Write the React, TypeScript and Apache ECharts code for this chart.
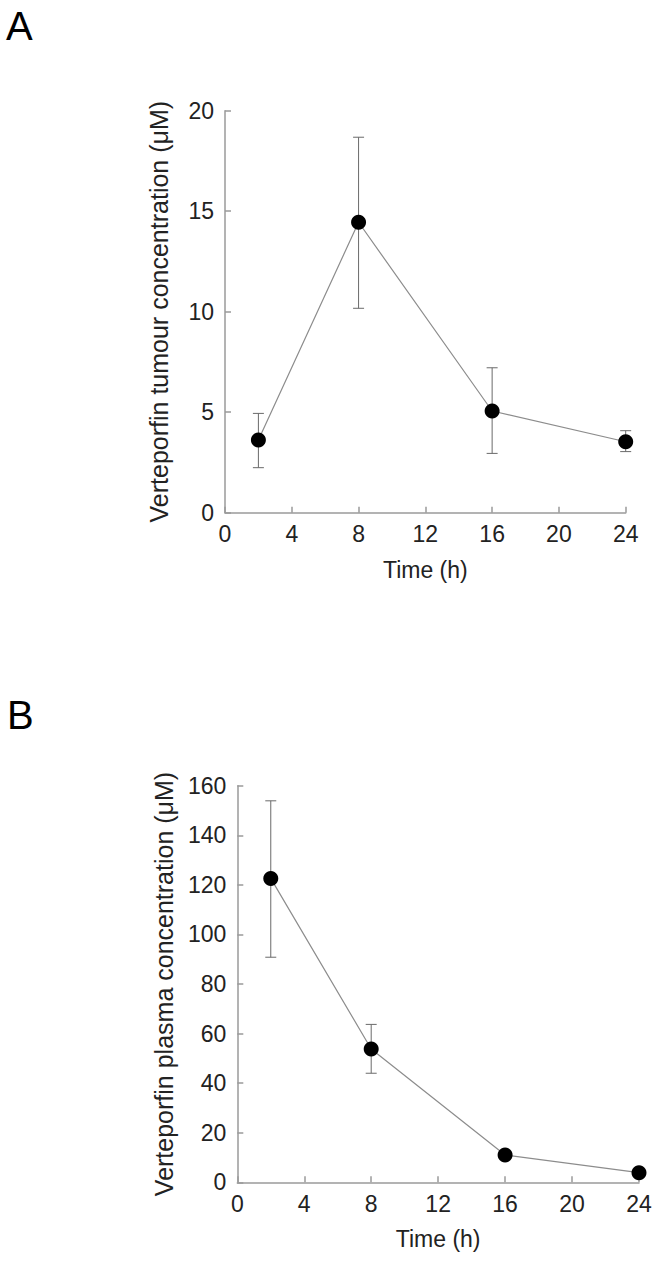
import React, { useEffect, useRef } from "react";
import * as echarts from "echarts";

const timesH = [2, 8, 16, 24];
const xTicks = [0, 4, 8, 12, 16, 20, 24];

const tumourMean = [3.62, 14.45, 5.06, 3.53];
const tumourUpper = [4.94, 18.68, 7.21, 4.08];
const tumourLower = [2.24, 10.17, 2.95, 3.04];

const plasmaMean = [122.6, 53.8, 11.0, 3.9];
const plasmaUpper = [153.9, 63.7, 11.0, 3.9];
const plasmaLower = [90.8, 44.0, 11.0, 3.9];

const panelLabels = ["A", "B"];
const xName = "Time (h)";
const yNameA = "Verteporfin tumour concentration (\u03bcM)";
const yNameB = "Verteporfin plasma concentration (\u03bcM)";

const FONT = "'Liberation Sans', Arial, Helvetica, sans-serif";
const AXIS_COLOR = "#9a9a9a";
const TEXT_COLOR = "#222";

function errorSeries(xAxisIndex: number, upper: number[], lower: number[]) {
  return {
    type: "custom",
    xAxisIndex,
    yAxisIndex: xAxisIndex,
    z: 1,
    data: timesH.map((t, i) => [t, lower[i], upper[i]]),
    renderItem: (params: any, api: any) => {
      const x = api.value(0);
      const lo = api.coord([x, api.value(1)]);
      const hi = api.coord([x, api.value(2)]);
      const half = 5.5;
      const style = { stroke: "#6a6a6a", lineWidth: 1 };
      if (Math.abs(hi[1] - lo[1]) < 1) return { type: "group", children: [] };
      return {
        type: "group",
        children: [
          { type: "line", shape: { x1: lo[0], y1: lo[1], x2: hi[0], y2: hi[1] }, style },
          { type: "line", shape: { x1: lo[0] - half, y1: lo[1], x2: lo[0] + half, y2: lo[1] }, style },
          { type: "line", shape: { x1: hi[0] - half, y1: hi[1], x2: hi[0] + half, y2: hi[1] }, style },
        ],
      };
    },
  };
}

function xAxisCfg(gridIndex: number, nameGap: number) {
  return {
    type: "value",
    gridIndex,
    min: 0,
    max: 24,
    interval: 4,
    name: xName,
    nameLocation: "middle",
    nameGap,
    nameTextStyle: { fontSize: 23, color: TEXT_COLOR, fontFamily: FONT },
    axisLine: { show: true, lineStyle: { color: AXIS_COLOR, width: 1.5 } },
    axisTick: { show: true, inside: true, length: 6, lineStyle: { color: AXIS_COLOR, width: 1.5 } },
    axisLabel: { fontSize: 23, color: TEXT_COLOR, fontFamily: FONT, margin: 10 },
    splitLine: { show: false },
  };
}

function yAxisCfg(gridIndex: number, max: number, interval: number, name: string, nameGap: number) {
  return {
    type: "value",
    gridIndex,
    min: 0,
    max,
    interval,
    name,
    nameLocation: "middle",
    nameGap,
    nameRotate: 90,
    nameTextStyle: { fontSize: 25, color: TEXT_COLOR, fontFamily: FONT },
    axisLine: { show: true, lineStyle: { color: AXIS_COLOR, width: 1.5 } },
    axisTick: { show: true, inside: true, length: 6, lineStyle: { color: AXIS_COLOR, width: 1.5 } },
    axisLabel: { fontSize: 23, color: TEXT_COLOR, fontFamily: FONT, margin: 11 },
    splitLine: { show: false },
  };
}

function lineSeries(idx: number, values: number[]) {
  return {
    type: "line",
    xAxisIndex: idx,
    yAxisIndex: idx,
    z: 2,
    data: timesH.map((t, i) => [t, values[i]]),
    symbol: "circle",
    symbolSize: 15,
    itemStyle: { color: "#000" },
    lineStyle: { color: "#8c8c8c", width: 1.2 },
  };
}

export default function App() {
  const ref = useRef<HTMLDivElement>(null);
  useEffect(() => {
    if (!ref.current) return;
    const chart = echarts.init(ref.current, null, { renderer: "svg" });
    chart.setOption({
      animation: false,
      backgroundColor: "#fff",
      grid: [
        { left: 225, top: 110.7, width: 400.7, height: 402 },
        { left: 237.3, top: 785.7, width: 401.7, height: 396.6 },
      ],
      xAxis: [xAxisCfg(0, 46), xAxisCfg(1, 45)],
      yAxis: [yAxisCfg(0, 20, 5, yNameA, 54), yAxisCfg(1, 160, 20, yNameB, 61)],
      series: [
        errorSeries(0, tumourUpper, tumourLower),
        lineSeries(0, tumourMean),
        errorSeries(1, plasmaUpper, plasmaLower),
        lineSeries(1, plasmaMean),
      ],
      graphic: [
        {
          type: "text",
          left: 6,
          top: 6,
          style: { text: panelLabels[0], fontSize: 40, fill: "#000", fontFamily: FONT },
        },
        {
          type: "text",
          left: 7,
          top: 695,
          style: { text: panelLabels[1], fontSize: 40, fill: "#000", fontFamily: FONT },
        },
      ],
    });
    return () => chart.dispose();
  }, []);
  return (
    <div
      ref={ref}
      style={{ position: "fixed", left: 0, top: 0, width: 660, height: 1271, background: "#fff" }}
    />
  );
}
